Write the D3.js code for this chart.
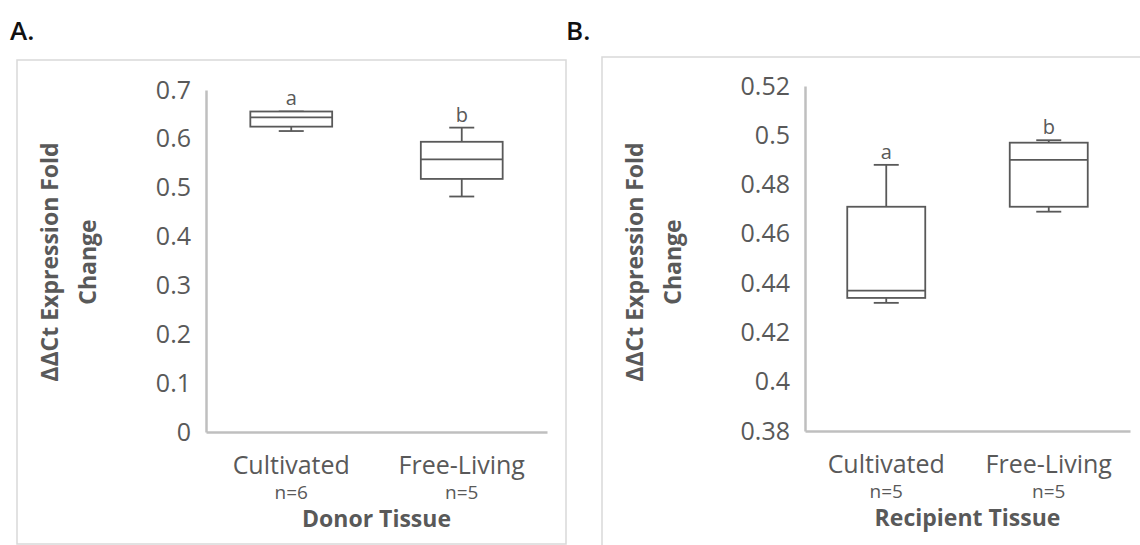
<!DOCTYPE html>
<html>
<head>
<meta charset="utf-8">
<script src="https://cdn.jsdelivr.net/npm/d3@7"></script>
<style>
  body { margin: 0; background: #fff; }
  text { font-family: "Open Sans", sans-serif; fill: #595959; }
</style>
</head>
<body>
<script>
// categories and counts
var categories = ["Cultivated", "Free-Living"];
var donorN = ["n=6", "n=5"];
var recipientN = ["n=5", "n=5"];

// box stats: [min, q1, median, q3, max]
var donorStats = [
  [0.616, 0.625, 0.644, 0.656, 0.656],
  [0.482, 0.518, 0.558, 0.594, 0.623]
];
var recipientStats = [
  [0.432, 0.434, 0.437, 0.471, 0.488],
  [0.469, 0.471, 0.490, 0.497, 0.498]
];

// significance letters
var donorLetters = ["a", "b"];
var recipientLetters = ["a", "b"];

// tick values
var donorTicks = [0, 0.1, 0.2, 0.3, 0.4, 0.5, 0.6, 0.7];
var recipientTicks = [0.38, 0.4, 0.42, 0.44, 0.46, 0.48, 0.5, 0.52];

var svg = d3.select("body").append("svg")
    .attr("width", 1140)
    .attr("height", 545);

function drawPanel(p) {
  // frame
  svg.append("rect")
      .attr("x", p.frame[0]).attr("y", p.frame[1])
      .attr("width", p.frame[2]).attr("height", p.frame[3])
      .attr("fill", "none").attr("stroke", "#d9d9d9").attr("stroke-width", 1.5);

  // panel letter
  svg.append("text")
      .attr("x", p.letterX).attr("y", 40)
      .style("font-size", "26px").style("font-weight", "600").style("fill", "#111")
      .text(p.letter);

  var x = d3.scaleBand().domain(categories).range([p.left, p.right]);
  var y = d3.scaleLinear().domain([p.ticks[0], p.ticks[p.ticks.length - 1]]).range([p.bottom, p.top]);

  // y axis
  var gy = svg.append("g")
      .attr("transform", "translate(" + p.left + ",0)")
      .call(d3.axisLeft(y).tickValues(p.ticks).tickSize(0).tickPadding(15)
        .tickFormat(function(d) { return String(+d.toFixed(2)); }));
  gy.select(".domain").attr("stroke", "#bfbfbf").attr("stroke-width", 2.5);
  gy.selectAll("text").style("font-size", "25px").style("font-family", "Open Sans").attr("fill", "#595959");

  // x axis
  var gx = svg.append("g")
      .attr("transform", "translate(0," + p.bottom + ")")
      .call(d3.axisBottom(x).tickSize(0).tickFormat(""));
  gx.select(".domain").attr("stroke", "#bfbfbf").attr("stroke-width", 2.5);

  // category labels
  svg.selectAll(null).data(categories).enter().append("text")
      .attr("x", function(d) { return x(d) + x.bandwidth() / 2; })
      .attr("y", p.bottom + 42)
      .attr("text-anchor", "middle")
      .style("font-size", "25px")
      .text(function(d) { return d; });
  svg.selectAll(null).data(p.n).enter().append("text")
      .attr("x", function(d, i) { return x(categories[i]) + x.bandwidth() / 2; })
      .attr("y", p.bottom + 67)
      .attr("text-anchor", "middle")
      .style("font-size", "19px")
      .text(function(d) { return d; });

  // x title
  svg.append("text")
      .attr("x", (p.left + p.right) / 2).attr("y", p.bottom + 95)
      .attr("text-anchor", "middle")
      .style("font-size", "23px").style("font-weight", "bold")
      .text(p.xTitle);

  // y title, two lines
  var yt = svg.append("text")
      .attr("transform", "translate(" + (p.frame[0] + 41) + ",262) rotate(-90)")
      .attr("text-anchor", "middle")
      .style("font-size", "23px").style("font-weight", "bold");
  yt.append("tspan").attr("x", 0).attr("y", 0).text("ΔΔCt Expression Fold");
  yt.append("tspan").attr("x", 0).attr("y", 38).text("Change");

  // boxes
  var boxW = x.bandwidth() * 0.48, capW = 25;
  var g = svg.selectAll(null).data(p.stats).enter().append("g")
      .attr("transform", function(d, i) { return "translate(" + (x(categories[i]) + x.bandwidth() / 2) + ",0)"; })
      .attr("stroke", "#595959").attr("stroke-width", 1.8).attr("fill", "none");

  g.append("line").attr("x1", 0).attr("x2", 0)
      .attr("y1", function(d) { return y(d[0]); }).attr("y2", function(d) { return y(d[1]); });
  g.append("line").attr("x1", 0).attr("x2", 0)
      .attr("y1", function(d) { return y(d[3]); }).attr("y2", function(d) { return y(d[4]); });
  g.append("line").attr("x1", -capW / 2).attr("x2", capW / 2)
      .attr("y1", function(d) { return y(d[0]); }).attr("y2", function(d) { return y(d[0]); });
  g.append("line").attr("x1", -capW / 2).attr("x2", capW / 2)
      .attr("y1", function(d) { return y(d[4]); }).attr("y2", function(d) { return y(d[4]); });
  g.append("rect")
      .attr("x", -boxW / 2).attr("width", boxW)
      .attr("y", function(d) { return y(d[3]); })
      .attr("height", function(d) { return y(d[1]) - y(d[3]); })
      .attr("fill", "#fff");
  g.append("line").attr("x1", -boxW / 2).attr("x2", boxW / 2)
      .attr("y1", function(d) { return y(d[2]); }).attr("y2", function(d) { return y(d[2]); });

  // letters
  svg.selectAll(null).data(p.letters).enter().append("text")
      .attr("x", function(d, i) { return x(categories[i]) + x.bandwidth() / 2; })
      .attr("y", function(d, i) { return y(p.stats[i][4]) - 6; })
      .attr("text-anchor", "middle")
      .style("font-size", "20px")
      .text(function(d) { return d; });
}

drawPanel({
  letter: "A.", letterX: 10,
  frame: [17, 60, 549, 484],
  left: 206, right: 547, top: 90, bottom: 432,
  ticks: donorTicks, stats: donorStats, letters: donorLetters, n: donorN,
  xTitle: "Donor Tissue"
});

drawPanel({
  letter: "B.", letterX: 566,
  frame: [602, 57, 560, 500],
  left: 805, right: 1130, top: 86, bottom: 431,
  ticks: recipientTicks, stats: recipientStats, letters: recipientLetters, n: recipientN,
  xTitle: "Recipient Tissue"
});
</script>
</body>
</html>
